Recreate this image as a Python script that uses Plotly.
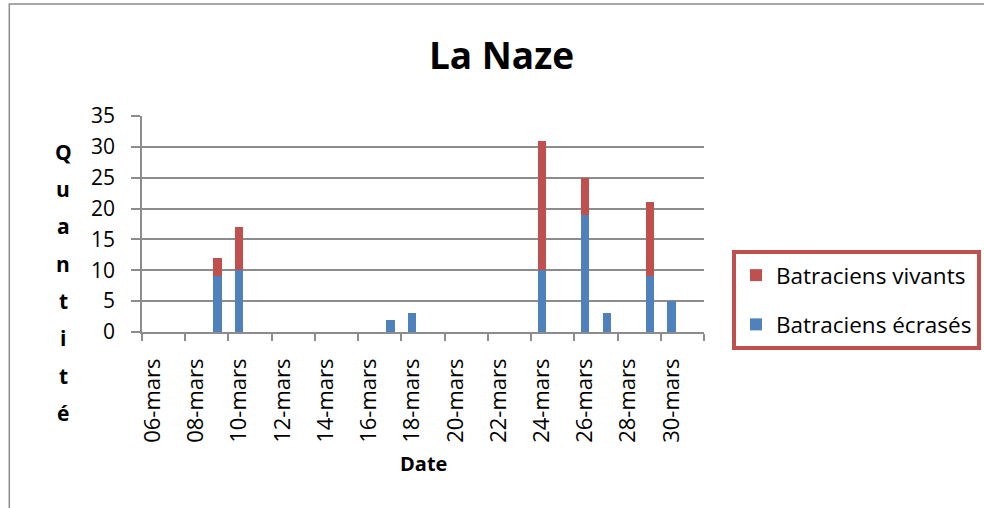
import plotly.graph_objects as go

# Data
dates = ["2013-03-09", "2013-03-10", "2013-03-17", "2013-03-18", "2013-03-24",
         "2013-03-26", "2013-03-27", "2013-03-29", "2013-03-30"]
ecrases = [9, 10, 2, 3, 10, 19, 3, 9, 5]
vivants = [3, 7, 0, 0, 21, 6, 0, 12, 0]

tick_dates = ["2013-03-06", "2013-03-08", "2013-03-10", "2013-03-12", "2013-03-14",
              "2013-03-16", "2013-03-18", "2013-03-20", "2013-03-22", "2013-03-24",
              "2013-03-26", "2013-03-28", "2013-03-30"]
tick_labels = ["06-mars", "08-mars", "10-mars", "12-mars", "14-mars", "16-mars",
               "18-mars", "20-mars", "22-mars", "24-mars", "26-mars", "28-mars", "30-mars"]

y_title_letters = list("Quantité")

BLUE = "#4F81BD"
RED = "#C0504D"
GRID = "#8C8C8C"
FONT = "Open Sans"
DAY_MS = 86400000

# plot area in pixels
L, R, T, B = 141.7, 703.7, 116, 332
W, H = 984, 508
pw, ph = R - L, B - T

fig = go.Figure()
fig.add_trace(go.Bar(x=dates, y=ecrases, name="Batraciens écrasés",
                     marker=dict(color=BLUE, line=dict(width=0)),
                     width=0.39 * DAY_MS, legendgroup="a", legendrank=2))
fig.add_trace(go.Bar(x=dates, y=vivants, name="Batraciens vivants",
                     marker=dict(color=RED, line=dict(width=0)),
                     width=0.39 * DAY_MS, legendgroup="b", legendrank=1))

def px_x(x):
    return (x - L) / pw

def px_y(y):
    return (B - y) / ph

annotations = []
for i, ch in enumerate(y_title_letters):
    annotations.append(dict(text=ch, xref="paper", yref="paper",
                            x=px_x(63), y=px_y(151.7 + i * 37.3),
                            xanchor="center", yanchor="middle", showarrow=False,
                            font=dict(family=FONT, size=21, color="black", weight="bold")))
annotations.append(dict(text="Date", xref="paper", yref="paper",
                        x=0.5, y=px_y(463), xanchor="center", yanchor="middle",
                        showarrow=False,
                        font=dict(family=FONT, size=20, color="black", weight="bold")))

fig.update_layout(
    width=W, height=H,
    margin=dict(l=L, r=W - R, t=T, b=H - B, pad=0, autoexpand=False),
    paper_bgcolor="white", plot_bgcolor="white",
    barmode="stack",
    bargap=0,
    title=dict(text="La Naze", x=501.5 / W, xanchor="center", xref="container",
               y=1 - 56 / H, yanchor="middle", yref="container",
               font=dict(family=FONT, size=37, color="black", weight="bold")),
    font=dict(family=FONT, color="black"),
    xaxis=dict(
        type="date",
        range=["2013-03-05 12:00", "2013-03-31 12:00"],
        tickmode="array", tickvals=tick_dates, ticktext=tick_labels,
        tickangle=-90, ticks="", ticklabelstandoff=16,
        tickfont=dict(family=FONT, size=22, color="black"),
        showgrid=False, showline=True, linecolor=GRID, linewidth=1.5,
        minor=dict(ticks="outside", tick0="2013-03-05 12:00", dtick=2 * DAY_MS,
                   ticklen=7, tickwidth=1.5, tickcolor=GRID, showgrid=False),
        zeroline=False, fixedrange=True,
    ),
    yaxis=dict(
        range=[0, 35], dtick=5, tick0=0,
        ticks="outside", ticklen=9, tickwidth=1.5, tickcolor=GRID,
        ticklabelstandoff=12,
        tickfont=dict(family=FONT, size=21, color="black"),
        showgrid=True, gridcolor=GRID, gridwidth=1.5,
        showline=True, linecolor=GRID, linewidth=1.5,
        zeroline=False, fixedrange=True,
    ),
    legend=dict(
        x=px_x(731.7), y=px_y(250), xanchor="left", yanchor="top",
        bordercolor=RED, borderwidth=4, bgcolor="white",
        font=dict(family=FONT, size=22.5, color="black"),
        traceorder="grouped", tracegroupgap=17,
        itemwidth=30,
    ),
    annotations=annotations,
    shapes=[dict(type="rect", xref="paper", yref="paper",
                 x0=px_x(9), x1=px_x(995), y0=px_y(520), y1=px_y(4),
                 line=dict(color="#8A8A8A", width=1.5), fillcolor="rgba(0,0,0,0)",
                 layer="below")],
)

fig.write_html("out.html", config={"displayModeBar": False},
               post_script="document.body.style.margin='0px';document.body.style.overflow='hidden';")
